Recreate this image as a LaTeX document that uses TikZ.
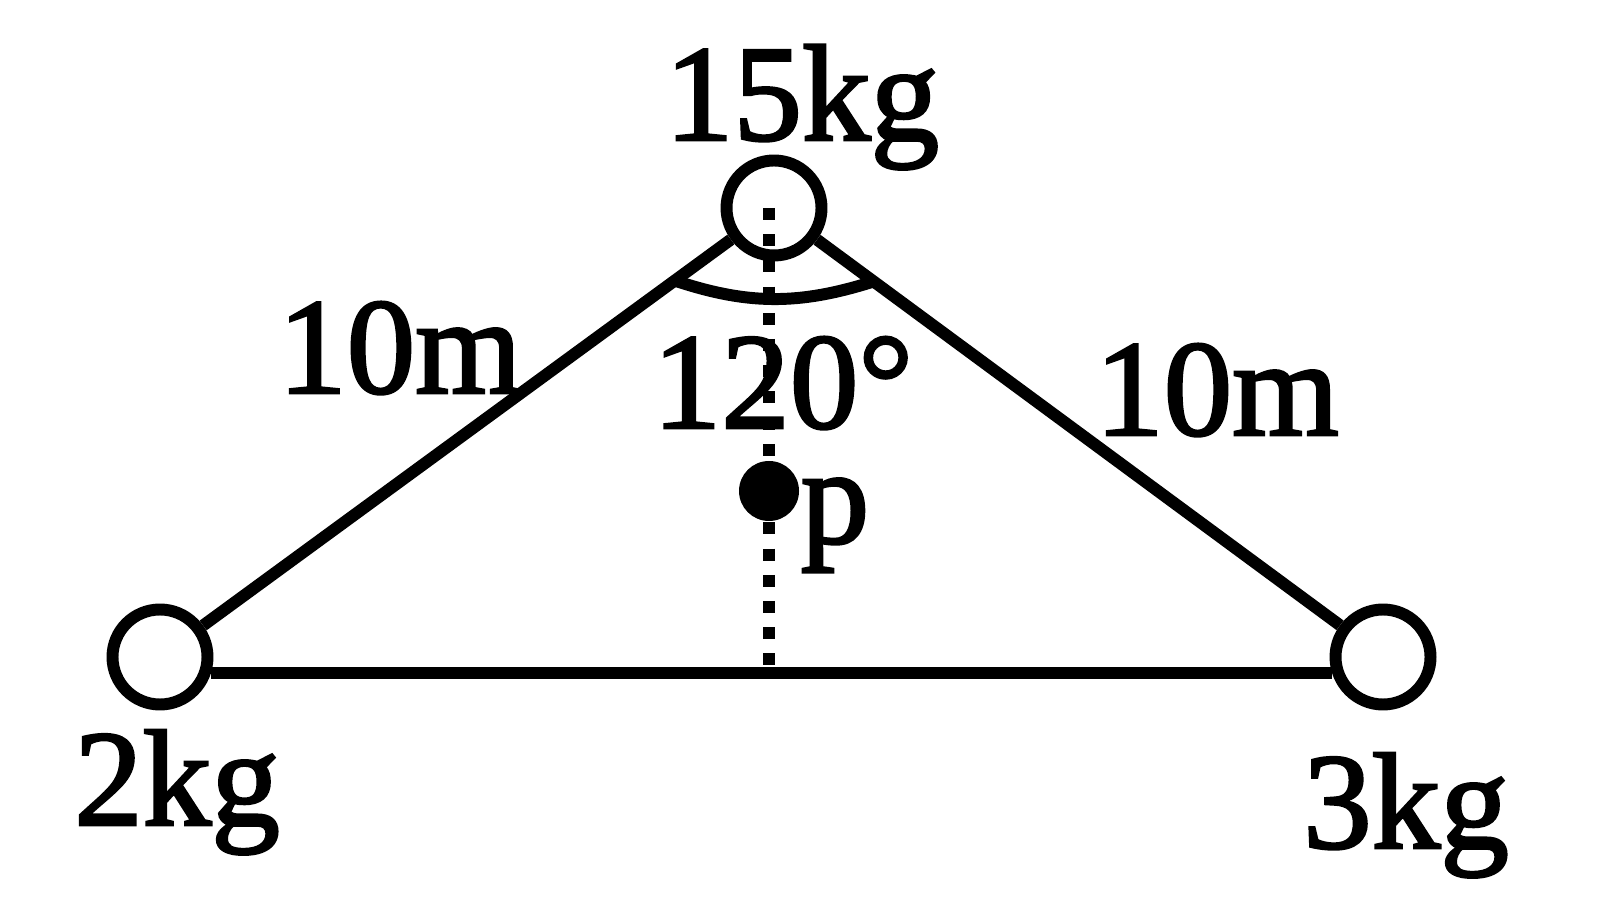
\documentclass[tikz,border=0pt]{standalone}
\usepackage{fontspec}
\setmainfont{Liberation Serif}[RawFeature={embolden=2}]
\usetikzlibrary{positioning}

\begin{document}
\begin{tikzpicture}[line width=3.4pt,on grid,
                    mass/.style={circle,draw,inner sep=0pt,minimum size=0.95cm},
                    lbl/.style={anchor=base,inner sep=0pt,font=\fontsize{39}{47}\selectfont}]

  \useasboundingbox (0,0) rectangle (16,8.98);

  \node[mass]  (T) at (7.74,6.90)                          {};
  \node[mass]  (L) [below left=4.49cm and 6.14cm of T]     {};
  \node[mass]  (R) [below right=4.49cm and 6.09cm of T]    {};
  \node[circle,fill,inner sep=0pt,minimum size=0.6cm] (P) at (7.69,4.07) {};

  \coordinate (top)  at (7.69,6.90);
  \coordinate (foot) at (7.69,2.32);
  \coordinate (arcL) at (6.73,6.18);
  \coordinate (arcR) at (8.72,6.16);

  % height line
  \draw[line width=0.12cm,dash pattern=on 0.12cm off 0.142cm] (top) -- (foot);

  \path (T) edge (L)
            edge (R)
        (L.-17) edge (R.197)
        (arcL) edge [bend right=18] (arcR);

  \node[lbl] (mT)  at (8.02,7.58)  {15kg};
  \node[lbl] (dL)  at (4.00,5.05)  {10m};
  \node[lbl] (dR)  at (12.17,4.63) {10m};
  \node[lbl] (ang) at (7.83,4.70)  {120°};
  \node[lbl] (pL)  at (8.35,3.55)  {p};
  \node[lbl] (mL)  at (1.77,0.73)  {2kg};
  \node[lbl] (mR)  at (14.06,0.50) {3kg};
\end{tikzpicture}
\end{document}
